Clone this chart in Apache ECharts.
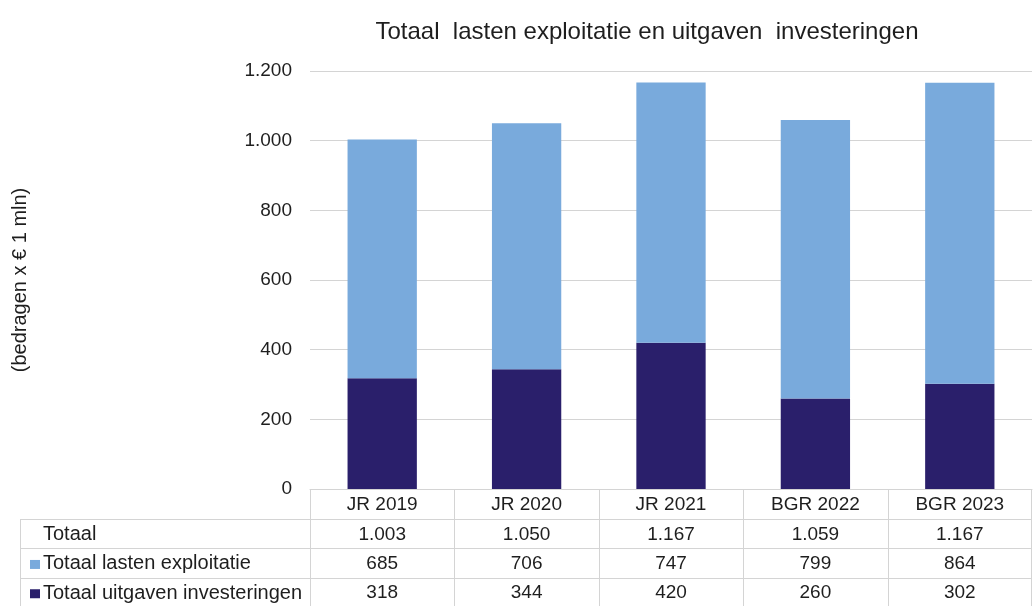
<!DOCTYPE html>
<html>
<head>
<meta charset="utf-8">
<script src="https://cdn.jsdelivr.net/npm/echarts@6/dist/echarts.min.js"></script>
<style>
html,body{margin:0;padding:0;background:#fff;}
#c{width:1033px;height:606px;}
</style>
</head>
<body>
<div id="c"></div>
<script>
var categories = ['JR 2019', 'JR 2020', 'JR 2021', 'BGR 2022', 'BGR 2023'];
var lastenExploitatie = [685, 706, 747, 799, 864];
var uitgavenInvesteringen = [318, 344, 420, 260, 302];
var totaal = [1003, 1050, 1167, 1059, 1167];
var rowLabels = ['Totaal', 'Totaal lasten exploitatie', 'Totaal uitgaven investeringen'];
var yTicks = { min: 0, max: 1200, interval: 200 };

var FONT = '"Liberation Sans", Arial, sans-serif';
var TXT = '#1e1e1e';
var LIGHT = '#79AADC';
var DARK = '#2A1F6B';
var LINE = '#d4d4d4';

function fmt(v) {
  return String(v).replace(/\B(?=(\d{3})+(?!\d))/g, '.');
}

var chart = echarts.init(document.getElementById('c'), null, { renderer: 'canvas' });

var option = {
  animation: false,
  backgroundColor: '#fff',
  title: {
    text: 'Totaal  lasten exploitatie en uitgaven  investeringen',
    left: 642,
    top: 15,
    textAlign: 'center',
    textStyle: { fontFamily: FONT, fontSize: 24, fontWeight: 'normal', color: TXT }
  },
  grid: { left: 310, top: 71, width: 722, height: 418, containLabel: false, outerBoundsMode: 'none' },
  xAxis: {
    type: 'category',
    data: categories,
    axisLine: { show: true, lineStyle: { color: LINE, width: 1 } },
    axisTick: { show: false },
    axisLabel: { fontFamily: FONT, fontSize: 19, color: TXT, margin: 6 }
  },
  yAxis: {
    type: 'value',
    min: yTicks.min,
    max: yTicks.max,
    interval: yTicks.interval,
    name: '(bedragen x € 1 mln)',
    nameLocation: 'middle',
    nameGap: 280,
    nameTextStyle: { fontFamily: FONT, fontSize: 20, color: TXT },
    axisLine: { show: false },
    axisTick: { show: false },
    axisLabel: { fontFamily: FONT, fontSize: 19, color: TXT, margin: 18, formatter: fmt },
    splitLine: { lineStyle: { color: LINE, width: 1 } }
  },
  series: [
    {
      name: rowLabels[2], type: 'bar', stack: 't', data: uitgavenInvesteringen,
      barWidth: '48%', itemStyle: { color: DARK }
    },
    {
      name: rowLabels[1], type: 'bar', stack: 't', data: lastenExploitatie,
      barWidth: '48%', itemStyle: { color: LIGHT }
    }
  ]
};
chart.setOption(option);

// Data table beneath the chart, placed from the axis scales
function buildTable() {
  var gridRect = chart.getModel().getComponent('grid').coordinateSystem.getRect();
  var x0 = gridRect.x, x1 = gridRect.x + gridRect.width;
  var yAxisBottom = gridRect.y + gridRect.height;
  var rowH = 29.3;
  var headerBottom = yAxisBottom + 30;
  var tableLeft = 20;
  var colW = gridRect.width / categories.length;
  var els = [];
  var rows = [totaal, lastenExploitatie, uitgavenInvesteringen];
  var bottom = headerBottom + rowH * rows.length;
  els.push({ type: 'line', shape: { x1: tableLeft, y1: headerBottom + 0.5, x2: x1, y2: headerBottom + 0.5 }, style: { stroke: LINE, lineWidth: 1 } });
  for (var r = 1; r <= rows.length; r++) {
    var yy = Math.round(headerBottom + rowH * r) + 0.5;
    els.push({ type: 'line', shape: { x1: tableLeft, y1: yy, x2: x1, y2: yy }, style: { stroke: LINE, lineWidth: 1 } });
  }
  els.push({ type: 'line', shape: { x1: tableLeft + 0.5, y1: headerBottom, x2: tableLeft + 0.5, y2: bottom }, style: { stroke: LINE, lineWidth: 1 } });
  for (var c = 0; c <= categories.length; c++) {
    var xx = Math.round(x0 + colW * c) + (c === categories.length ? -0.5 : 0.5);
    els.push({ type: 'line', shape: { x1: xx, y1: yAxisBottom, x2: xx, y2: bottom }, style: { stroke: LINE, lineWidth: 1 } });
  }
  var markerColors = [null, LIGHT, DARK];
  for (var r2 = 0; r2 < rows.length; r2++) {
    var cy = headerBottom + rowH * r2 + rowH / 2 + 1;
    if (markerColors[r2]) {
      els.push({ type: 'rect', shape: { x: 30, y: cy - 4, width: 10, height: 9 }, style: { fill: markerColors[r2] } });
    }
    els.push({ type: 'text', x: 43, y: cy, style: { text: rowLabels[r2], font: '20px ' + FONT, fill: TXT, textAlign: 'left', textVerticalAlign: 'middle' } });
    for (var c2 = 0; c2 < categories.length; c2++) {
      var px = chart.convertToPixel({ xAxisIndex: 0 }, categories[c2]);
      els.push({ type: 'text', x: px, y: cy, style: { text: fmt(rows[r2][c2]), font: '19px ' + FONT, fill: TXT, textAlign: 'center', textVerticalAlign: 'middle' } });
    }
  }
  chart.setOption({ graphic: { elements: els } });
}
buildTable();
</script>
</body>
</html>
